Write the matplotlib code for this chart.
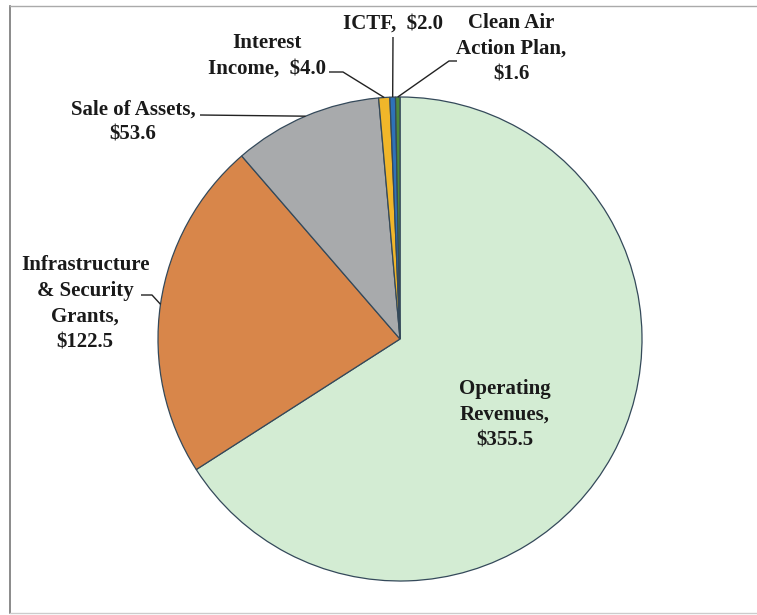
import numpy as np
import matplotlib
matplotlib.use("Agg")
import matplotlib.pyplot as plt

W, H = 757, 615

# revenue sources ($ millions)
sources = ["Operating\nRevenues,", "Infrastructure\n& Security\nGrants,", "Sale of Assets,",
           "Interest\nIncome,  ", "ICTF,  ", "Clean Air\nAction Plan,\n"]
amounts = [355.5, 122.5, 53.6, 4.0, 2.0, 1.6]
colors = ["#d3ecd3", "#d8864a", "#a8aaac", "#f0b62a", "#2e72b8", "#4f8a3a"]

fig = plt.figure(figsize=(W / 100, H / 100), dpi=100)
ax = fig.add_axes([0, 0, 1, 1])


def px(x, y):
    # pixel position measured from the top-left corner
    return x, H - y


cx, cy = px(400, 339)
R = 242

wedges, _ = ax.pie(amounts, colors=colors, startangle=90, counterclock=False,
                   center=(cx, cy), radius=R, frame=True,
                   wedgeprops=dict(edgecolor="#34495a", linewidth=0.9))
ax.set_xlim(0, W)
ax.set_ylim(0, H)
ax.set_aspect("equal")
ax.axis("off")


def edge_point(w):
    ang = np.deg2rad((w.theta1 + w.theta2) / 2)
    return cx + R * np.cos(ang), cy + R * np.sin(ang)


font = dict(family="Liberation Serif", fontweight="bold", fontsize=15,
            color="#1a1a1a", ha="center", va="center", linespacing=1.38)

labels = [f"{s}${a:.1f}" if s.endswith(("  ", "\n")) else f"{s}\n${a:.1f}"
          for s, a in zip(sources, amounts)]

# label centre, leader start and knee (None = straight leader)
layout = [
    ((505, 415), None, None),
    ((85, 304), (141, 295), (152, 295)),
    ((133, 122), (200, 115), None),
    ((267, 56), (329, 72), (343, 72)),
    ((393, 24), (393, 37), None),
    ((511, 49), (457, 61), (449, 61)),
]

for w, text, (pos, start, knee) in zip(wedges, labels, layout):
    ax.text(*px(*pos), text, **font)
    if start is None:
        continue
    pts = [px(*start)]
    if knee is not None:
        pts.append(px(*knee))
    pts.append(edge_point(w))
    xs, ys = zip(*pts)
    ax.plot(xs, ys, color="#222222", linewidth=1.0, solid_capstyle="butt")

# border around the chart area
ax.plot([10, 10], [H - 6, H - 613], color="#777777", linewidth=1.2)
ax.plot([10, W], [H - 6, H - 6], color="#aaaaaa", linewidth=1.0)
ax.plot([10, W], [H - 613, H - 613], color="#cccccc", linewidth=1.0)

fig.savefig("out.png", dpi=100)
